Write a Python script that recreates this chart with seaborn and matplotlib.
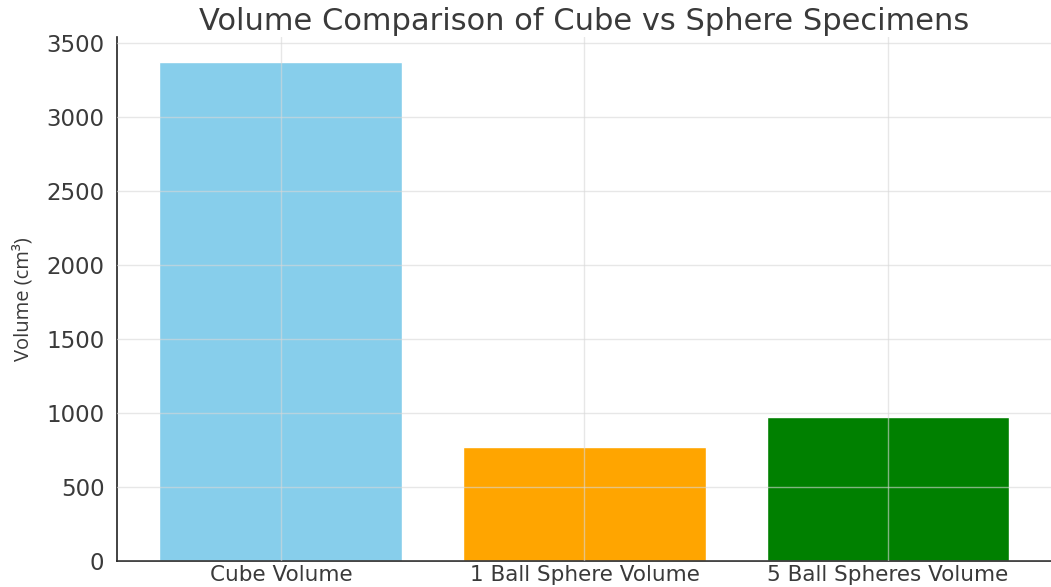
import matplotlib
matplotlib.use("Agg")
import matplotlib.pyplot as plt
import seaborn as sns
import pandas as pd

# Specimen volumes (cm³)
categories = ["Cube Volume", "1 Ball Sphere Volume", "5 Ball Spheres Volume"]
volumes = [3375, 770, 975]
bar_colors = ["#87CEEB", "#FFA500", "#008000"]

df = pd.DataFrame({"Specimen": categories, "Volume": volumes})

sns.set_style("white")
plt.rcParams["font.family"] = ["DejaVu Sans"]

fig = plt.figure(figsize=(10.51, 5.87), dpi=100)
ax = fig.add_axes([0.1113, 0.0443, 0.8896, 0.8927])

sns.barplot(data=df, x="Specimen", y="Volume", hue="Specimen",
            palette=bar_colors, order=categories, hue_order=categories,
            width=0.8, saturation=1, legend=False, ax=ax)

ax.set_xlim(-0.54, 2.54)
ax.set_ylim(0, 3544)
ax.set_yticks([0, 500, 1000, 1500, 2000, 2500, 3000, 3500])

ax.grid(True, color="#d8d8d8", linewidth=1.0, alpha=0.6)
ax.set_axisbelow(False)

for side in ("top", "right"):
    ax.spines[side].set_visible(False)
for side in ("left", "bottom"):
    ax.spines[side].set_color("#222222")
    ax.spines[side].set_linewidth(1.2)

ax.tick_params(axis="both", direction="in", length=5, width=1,
               labelcolor="#3a3a3a", colors="#333333")
ax.tick_params(axis="y", labelsize=16.5, pad=9)
ax.tick_params(axis="x", labelsize=15.5, pad=3)

ax.set_xlabel("")
ax.set_ylabel("Volume (cm³)", fontsize=14.5, family="Open Sans",
              color="#3a3a3a", labelpad=9)
ax.set_title("Volume Comparison of Cube vs Sphere Specimens",
             fontsize=22, color="#3a3a3a", pad=5)

fig.savefig("out.png", dpi=100)
